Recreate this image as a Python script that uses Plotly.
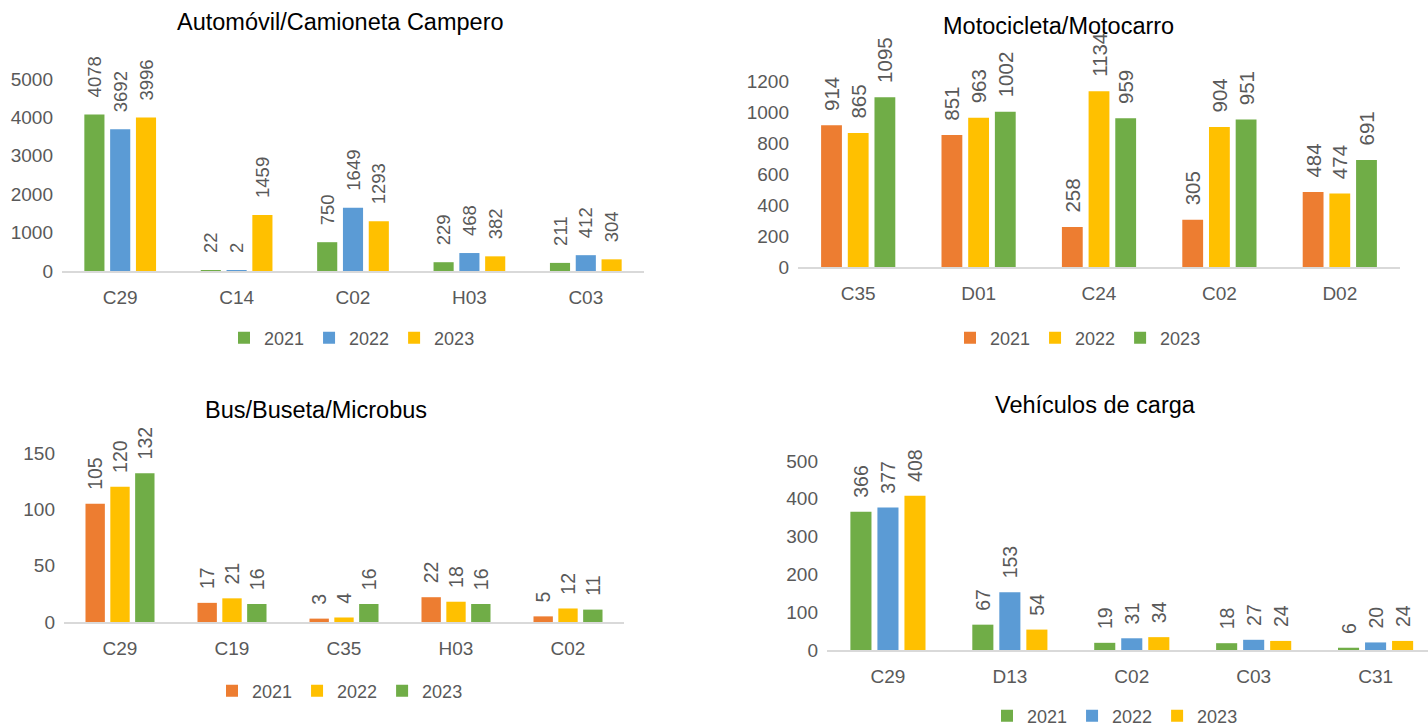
import plotly.graph_objects as go

years = ["2021", "2022", "2023"]

# Panel 1: Automóvil/Camioneta Campero
cats1 = ["C29", "C14", "C02", "H03", "C03"]
auto_2021 = [4078, 22, 750, 229, 211]
auto_2022 = [3692, 2, 1649, 468, 412]
auto_2023 = [3996, 1459, 1293, 382, 304]

# Panel 2: Motocicleta/Motocarro
cats2 = ["C35", "D01", "C24", "C02", "D02"]
moto_2021 = [914, 851, 258, 305, 484]
moto_2022 = [865, 963, 1134, 904, 474]
moto_2023 = [1095, 1002, 959, 951, 691]

# Panel 3: Bus/Buseta/Microbus
cats3 = ["C29", "C19", "C35", "H03", "C02"]
bus_2021 = [105, 17, 3, 22, 5]
bus_2022 = [120, 21, 4, 18, 12]
bus_2023 = [132, 16, 16, 16, 11]

# Panel 4: Vehículos de carga
cats4 = ["C29", "D13", "C02", "C03", "C31"]
carga_2021 = [366, 67, 19, 18, 6]
carga_2022 = [377, 153, 31, 27, 20]
carga_2023 = [408, 54, 34, 24, 24]

GREEN = "#70AD47"
BLUE = "#5B9BD5"
YELLOW = "#FFC000"
ORANGE = "#ED7D31"
FONT = "Arial, Liberation Sans, sans-serif"
GRAY = "#595959"

W, H = 1428, 727

def px_x(a, b):
    return [a / W, b / W]

def px_y(top, bottom):
    return [1 - bottom / H, 1 - top / H]

fig = go.Figure()

NB = "\u00a0"
panels = [
    dict(cats=cats1, vals=[auto_2021, auto_2022, auto_2023], colors=[GREEN, BLUE, YELLOW],
         ax="", legend="legend", lsize=18.5, pad=NB + NB + "\u2009"),
    dict(cats=cats2, vals=[moto_2021, moto_2022, moto_2023], colors=[ORANGE, YELLOW, GREEN],
         ax="2", legend="legend2", lsize=20.5, pad=NB + NB),
    dict(cats=cats3, vals=[bus_2021, bus_2022, bus_2023], colors=[ORANGE, YELLOW, GREEN],
         ax="3", legend="legend3", lsize=19.5, pad=NB + NB),
    dict(cats=cats4, vals=[carga_2021, carga_2022, carga_2023], colors=[GREEN, BLUE, YELLOW],
         ax="4", legend="legend4", lsize=19.5, pad=NB + NB),
]

for p in panels:
    for yr, v, c in zip(years, p["vals"], p["colors"]):
        fig.add_trace(go.Bar(
            x=p["cats"], y=v, name=yr,
            marker=dict(color=c, line=dict(width=0)),
            text=[p["pad"] + str(t) for t in v], textposition="outside", textangle=-90,
            textfont=dict(family=FONT, size=p["lsize"], color=GRAY),
            constraintext="none", cliponaxis=False,
            xaxis="x" + p["ax"], yaxis="y" + p["ax"], legend=p["legend"],
        ))

def xaxis(domain, rng, anchor):
    return dict(domain=domain, range=rng, anchor=anchor, showline=True, linecolor="#D9D9D9",
                linewidth=1.5, ticks="", showgrid=False, type="category", automargin=False,
                tickfont=dict(family=FONT, size=19, color=GRAY), ticklabelstandoff=8)

def yaxis(domain, rng, tickvals, anchor):
    return dict(domain=domain, range=rng, tickvals=tickvals, showgrid=False,
                showline=False, zeroline=False, ticks="", anchor=anchor, automargin=False,
                tickfont=dict(family=FONT, size=19, color=GRAY), ticklabelstandoff=8)

layout = dict(
    width=W, height=H, margin=dict(l=0, r=0, t=0, b=0, pad=0, autoexpand=False),
    paper_bgcolor="white", plot_bgcolor="white",
    barmode="group", bargap=0.335, bargroupgap=0.22,
    font=dict(family=FONT, color=GRAY),
    xaxis=xaxis(px_x(62, 644), [-0.5, 4.5], "y"),
    yaxis=yaxis(px_y(79, 271), [0, 5000], [0, 1000, 2000, 3000, 4000, 5000], "x"),
    xaxis2=xaxis(px_x(798, 1400), [-0.5, 4.5], "y2"),
    yaxis2=yaxis(px_y(81, 267), [0, 1200], [0, 200, 400, 600, 800, 1000, 1200], "x2"),
    xaxis3=xaxis(px_x(64, 624), [-0.5, 4.5], "y3"),
    yaxis3=yaxis(px_y(453, 622), [0, 150], [0, 50, 100, 150], "x3"),
    xaxis4=xaxis(px_x(827, 1428), [-0.5, 4.43], "y4"),
    yaxis4=yaxis(px_y(461, 650), [0, 500], [0, 100, 200, 300, 400, 500], "x4"),
)

def legend(cx, cy):
    return dict(orientation="h", x=cx / W, y=1 - cy / H, xanchor="center", yanchor="middle",
                font=dict(family=FONT, size=18, color=GRAY), bgcolor="rgba(0,0,0,0)",
                itemwidth=30, tracegroupgap=0, traceorder="normal")

layout["legend"] = legend(352, 338)
layout["legend2"] = legend(1078, 338)
layout["legend3"] = legend(340, 691)
layout["legend4"] = legend(1115, 716)

titles = [
    ("Automóvil/Camioneta Campero", 340, 22),
    ("Motocicleta/Motocarro", 1058, 26),
    ("Bus/Buseta/Microbus", 316, 410),
    ("Vehículos de carga", 1095, 405),
]
layout["annotations"] = [
    dict(text=t, x=x / W, y=1 - y / H, xref="paper", yref="paper", showarrow=False,
         xanchor="center", yanchor="middle", font=dict(family=FONT, size=23.5, color="#000000"))
    for t, x, y in titles
]

fig.update_layout(**layout)
fig.write_html("out.html", config={"displayModeBar": False},
               post_script="document.body.style.margin='0';document.documentElement.style.overflow='hidden';")
